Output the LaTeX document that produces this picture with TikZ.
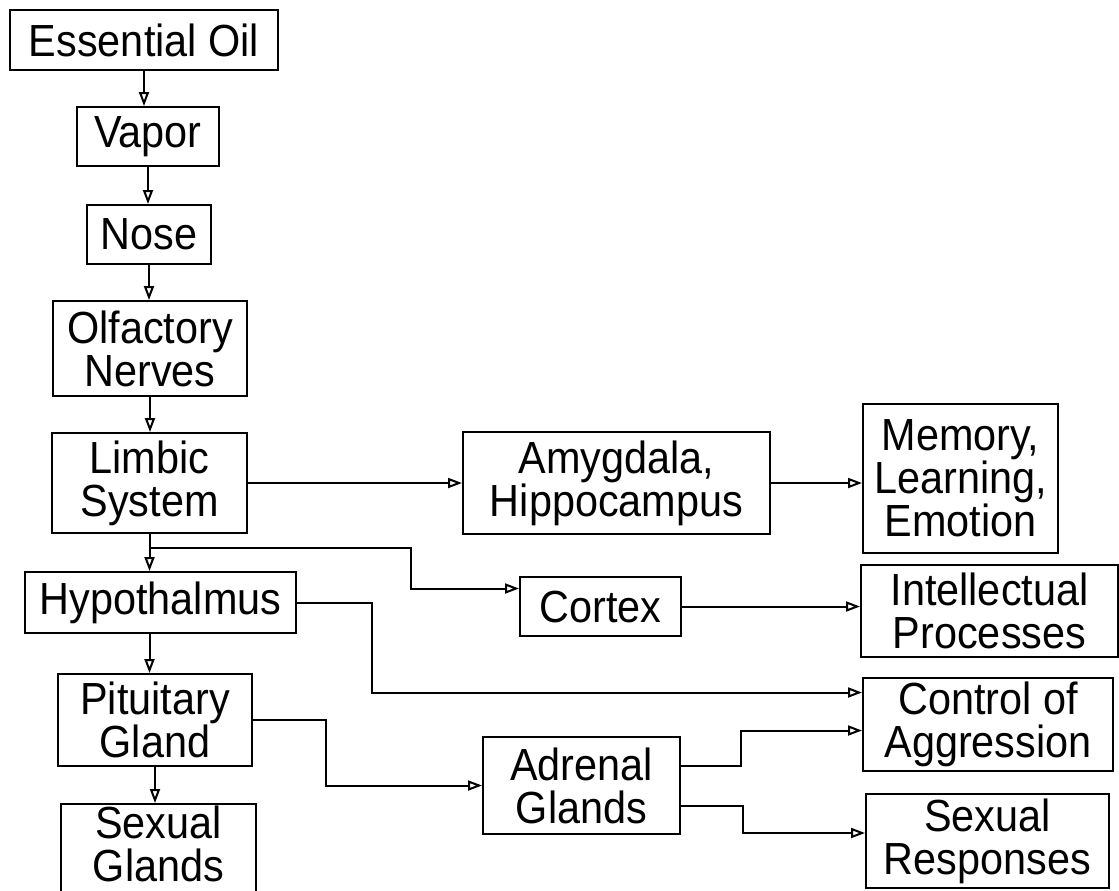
\documentclass[tikz,border=0pt]{standalone}
\usepackage{fontspec}
\setmainfont{Liberation Sans}[FakeStretch=0.92]
\usetikzlibrary{arrows.meta,calc}

\begin{document}
\begin{tikzpicture}[x=0.5pt, y=-0.5pt,
  box/.style={draw, line width=1pt, inner sep=0pt, align=center, font=\fontsize{22.5pt}{21.5pt}\selectfont},
  arr/.style={line width=1pt, -{Triangle[open, length=7pt, width=5pt]}}]
\useasboundingbox (0,0) rectangle (1119,890);
% main chain
\node[box, minimum width=134pt, minimum height=30pt] (oil) at (144,40) {Essential Oil};
\node[box, minimum width=71pt, minimum height=29.5pt] (vapor) at (148,136.5) {Vapor};
\node[box, minimum width=62pt, minimum height=29.5pt] (nose) at (149,234.5) {Nose};
\node[box, minimum width=97pt, minimum height=47.5pt] (olf) at (150,348.5) {Olfactory\\Nerves};
\node[box, minimum width=97.5pt, minimum height=50pt] (limbic) at (149.5,483) {Limbic\\System};
\node[box, minimum width=135.5pt, minimum height=30.5pt] (hypo) at (160.5,602.5) {Hypothalmus};
\node[box, minimum width=97pt, minimum height=46pt] (pit) at (155,720) {Pituitary\\Gland};
\node[box, minimum width=97.5pt, minimum height=48pt] (sexg) at (158.5,852) {Sexual\\Glands\rule[-8pt]{0pt}{0pt}};
% middle
\node[box, minimum width=153.5pt, minimum height=51pt] (amyg) at (616.5,483) {Amygdala,\\Hippocampus};
\node[box, minimum width=80.5pt, minimum height=29.5pt] (cortex) at (600.5,606.5) {Cortex};
\node[box, minimum width=98.5pt, minimum height=48.5pt] (adrenal) at (581.5,785.5) {Adrenal\\Glands};
% right column
\node[box, minimum width=97.5pt, minimum height=74.5pt] (memory) at (960.5,478.5) {Memory,\\Learning,\\Emotion};
\node[box, minimum width=128.5pt, minimum height=46pt] (intel) at (989.5,611) {Intellectual\\Processes};
\node[box, minimum width=125pt, minimum height=46.5pt] (control) at (988,724.5) {Control of\\Aggression};
\node[box, minimum width=121.5pt, minimum height=47pt] (sexr) at (987.5,841) {Sexual\\Responses};
% vertical arrows
\draw[arr] (oil.south) -- (oil.south |- vapor.north);
\draw[arr] (vapor.south) -- (vapor.south |- nose.north);
\draw[arr] (nose.south) -- (nose.south |- olf.north);
\draw[arr] (olf.south) -- (olf.south |- limbic.north);
\draw[arr] (limbic.south) -- (limbic.south |- hypo.north);
\draw[arr] (hypo.south -| limbic) -- (limbic |- pit.north);
\draw[arr] (pit.south) -- (pit.south |- sexg.north);
% branches
\coordinate (lsplit) at ([yshift=-7pt]limbic.south);
\draw[arr] (limbic) -- (amyg);
\draw[arr] (amyg.east) -- (amyg.east -| memory.west);
\draw[arr] (lsplit) -| ([xshift=-54pt,yshift=9pt]cortex.west) -- ([yshift=9pt]cortex.west);
\draw[arr] (cortex.east) -- (cortex.east -| intel.west);
\draw[arr] (hypo.east) -| ([xshift=-245pt,yshift=16pt]control.west) -- ([yshift=16pt]control.west);
\draw[arr] (pit.east) -| ([xshift=-78pt]adrenal.west) -- (adrenal.west);
\draw[arr] ([yshift=10pt]adrenal.east) -| ([xshift=-60.5pt,yshift=-3pt]control.west) -- ([yshift=-3pt]control.west);
\draw[arr] ([yshift=-10pt]adrenal.east) -| ([xshift=-61pt,yshift=4pt]sexr.west) -- ([yshift=4pt]sexr.west);
\end{tikzpicture}
\end{document}
